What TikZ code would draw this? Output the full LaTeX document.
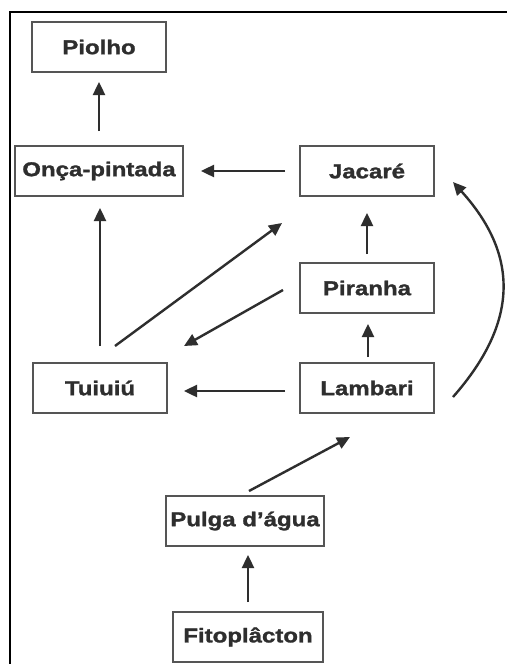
\documentclass[tikz,border=0pt]{standalone}
\usepackage{fontspec}
\newfontfamily\boxfont{Liberation Sans}[FakeStretch=1.2,FakeBold=1.4]
\usetikzlibrary{arrows.meta}
\definecolor{ink}{HTML}{2E2E2E}
\definecolor{edge}{HTML}{555555}
\begin{document}
\begin{tikzpicture}[x=1pt,y=-1pt,
  box/.style={draw=edge,line width=2pt,fill=white,minimum height=50pt,inner sep=0pt,
    font=\boxfont\bfseries\fontsize{20}{24}\selectfont,text=ink},
  arr/.style={draw=ink,line width=2.4pt,-{Triangle[length=13pt,width=12pt]}}]
\useasboundingbox (0,0) rectangle (507,664);
\fill[white] (0,0) rectangle (507,664);
\draw[line width=2.4pt,black] (10,664) -- (10,12) -- (507,12);
\node[box,minimum width=134pt] (piolho) at (99,47) {Piolho};
\node[box,minimum width=168pt] (onca) at (99,171) {Onça-pintada};
\node[box,minimum width=134pt] (jacare) at (367,171) {Jacaré};
\node[box,minimum width=134pt] (piranha) at (367,288) {Piranha};
\node[box,minimum width=134pt] (tuiuiu) at (100,388) {Tuiuiú};
\node[box,minimum width=134pt] (lambari) at (367,388) {Lambari};
\node[box,minimum width=158pt] (pulga) at (245,521) {Pulga d’água};
\node[box,minimum width=150pt] (fito) at (248,637) {Fitoplâcton};
% connectors
\draw[arr] ([yshift=14pt]onca.north) -- ([yshift=-9pt]piolho.south);
\draw[arr] ([xshift=-14pt]jacare.west) -- ([xshift=17pt]onca.east);
\draw[arr] ([yshift=16pt]tuiuiu.north) -- ([yshift=-11pt]tuiuiu.north |- onca.south);
\draw[arr] ([xshift=15pt,yshift=16pt]tuiuiu.north) -- ([xshift=-17pt,yshift=-26pt]jacare.south west);
\draw[arr] ([xshift=-16pt,yshift=-2pt]piranha.west) -- ([xshift=16pt,yshift=16pt]tuiuiu.north east);
\draw[arr] ([yshift=8pt]piranha.north) -- ([yshift=-16pt]jacare.south);
\draw[arr] ([xshift=1pt,yshift=5pt]lambari.north) -- ([xshift=1pt,yshift=-10pt]piranha.south);
\draw[arr] ([xshift=-14pt,yshift=-3pt]lambari.west) -- ([xshift=16pt,yshift=-3pt]tuiuiu.east);
\draw[arr] ([xshift=18pt,yshift=-9pt]lambari.east) .. controls (519,322) and (519,255) .. ([xshift=18pt,yshift=-11pt]jacare.east);
\draw[arr] ([xshift=4pt,yshift=4pt]pulga.north) -- ([xshift=-17pt,yshift=-23pt]lambari.south);
\draw[arr] ([yshift=9pt]fito.north) -- ([yshift=-8pt]fito.north |- pulga.south);
\end{tikzpicture}
\end{document}
